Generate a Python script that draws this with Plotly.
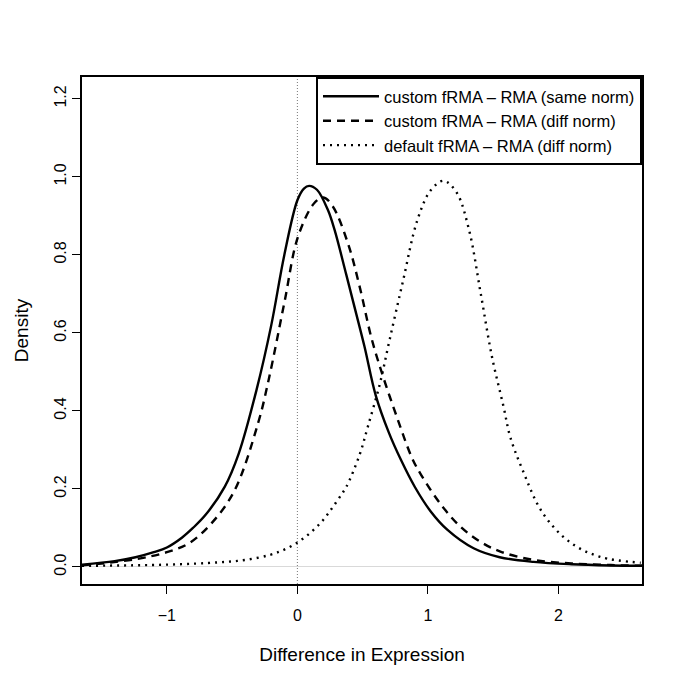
import plotly.graph_objects as go

# custom fRMA - RMA (same norm)
same_x = [-1.65, -1.4, -1.24, -1.1, -1.0, -0.885, -0.8, -0.7, -0.556, -0.45, -0.313, -0.2, -0.1, 0.0, 0.05, 0.09, 0.15, 0.234, 0.285, 0.374, 0.45, 0.514, 0.6, 0.7, 0.794, 0.9, 1.02, 1.15, 1.35, 1.55, 1.81, 2.1, 2.4, 2.64]
same_y = [0.006, 0.015, 0.025, 0.038, 0.05, 0.075, 0.1, 0.135, 0.206, 0.29, 0.454, 0.62, 0.80, 0.94, 0.97, 0.977, 0.967, 0.915, 0.864, 0.75, 0.65, 0.565, 0.44, 0.345, 0.274, 0.205, 0.143, 0.095, 0.048, 0.025, 0.013, 0.007, 0.004, 0.003]

# custom fRMA - RMA (diff norm)
diff_x = [-1.65, -1.24, -1.0, -0.83, -0.65, -0.48, -0.3, -0.22, -0.1, 0.005, 0.13, 0.2, 0.27, 0.387, 0.476, 0.565, 0.64, 0.77, 0.88, 0.95, 1.1, 1.25, 1.4, 1.56, 1.81, 2.1, 2.4, 2.64]
diff_y = [0.004, 0.02, 0.038, 0.061, 0.115, 0.197, 0.37, 0.48, 0.677, 0.847, 0.933, 0.947, 0.925, 0.83, 0.72, 0.59, 0.505, 0.377, 0.278, 0.235, 0.16, 0.103, 0.065, 0.039, 0.018, 0.009, 0.005, 0.003]

# default fRMA - RMA (diff norm)
dflt_x = [-1.65, -1.0, -0.6, -0.4, -0.21, -0.097, 0.01, 0.107, 0.196, 0.27, 0.34, 0.376, 0.476, 0.54, 0.63, 0.705, 0.807, 0.92, 1.02, 1.12, 1.22, 1.315, 1.405, 1.49, 1.58, 1.63, 1.72, 1.88, 2.09, 2.32, 2.63]
dflt_y = [0.003, 0.006, 0.012, 0.018, 0.031, 0.045, 0.065, 0.09, 0.12, 0.153, 0.187, 0.206, 0.287, 0.36, 0.467, 0.58, 0.73, 0.89, 0.965, 0.99, 0.96, 0.864, 0.70, 0.54, 0.41, 0.334, 0.253, 0.138, 0.063, 0.026, 0.011]

x_ticks = [-1, 0, 1, 2]
x_tick_text = ["\u22121", "0", "1", "2"]
y_ticks = [0.0, 0.2, 0.4, 0.6, 0.8, 1.0, 1.2]
y_tick_text = ["0.0", "0.2", "0.4", "0.6", "0.8", "1.0", "1.2"]

FONT = "Liberation Sans, Arial, sans-serif"

fig = go.Figure()
fig.add_trace(go.Scatter(x=same_x, y=same_y, mode="lines", line_shape="spline",
                         line=dict(color="black", width=2.4),
                         name="custom fRMA \u2013 RMA (same norm)"))
fig.add_trace(go.Scatter(x=diff_x, y=diff_y, mode="lines", line_shape="spline",
                         line=dict(color="black", width=2.4, dash="8px,6px"),
                         name="custom fRMA \u2013 RMA (diff norm)"))
fig.add_trace(go.Scatter(x=dflt_x, y=dflt_y, mode="lines", line_shape="spline",
                         line=dict(color="black", width=2.4, dash="2px,5px"),
                         name="default fRMA \u2013 RMA (diff norm)"))

fig.add_shape(type="line", xref="x", yref="paper", x0=0, x1=0, y0=0, y1=1,
              line=dict(color="#777777", width=1, dash="1px,2px"), layer="below")

fig.update_layout(
    width=677, height=677,
    margin=dict(l=72, r=43, t=69, b=101),
    plot_bgcolor="white", paper_bgcolor="white",
    font=dict(family=FONT, size=16, color="black"),
    showlegend=True,
    legend=dict(x=1, y=1, xanchor="right", yanchor="top",
                bgcolor="white", bordercolor="black", borderwidth=2,
                font=dict(family=FONT, size=16.5), itemwidth=56,
                tracegroupgap=0),
    xaxis=dict(range=[-1.65, 2.64], tickvals=x_ticks, ticktext=x_tick_text,
               ticks="outside", ticklen=8, tickwidth=1.2, tickcolor="black",
               ticklabelstandoff=8,
               showline=True, linecolor="black", linewidth=2, mirror=True,
               showgrid=False, zeroline=False,
               title=dict(text="Difference in Expression", standoff=24),
               tickfont=dict(size=16)),
    yaxis=dict(range=[-0.0436, 1.256], tickvals=y_ticks, ticktext=y_tick_text,
               tickangle=-90,
               ticks="outside", ticklen=8, tickwidth=1.2, tickcolor="black",
               showline=True, linecolor="black", linewidth=2, mirror=True,
               showgrid=False, zeroline=True, zerolinecolor="#d9d9d9", zerolinewidth=1,
               title=dict(text="Density", standoff=18),
               tickfont=dict(size=16)),
)

fig.write_html("out.html")
